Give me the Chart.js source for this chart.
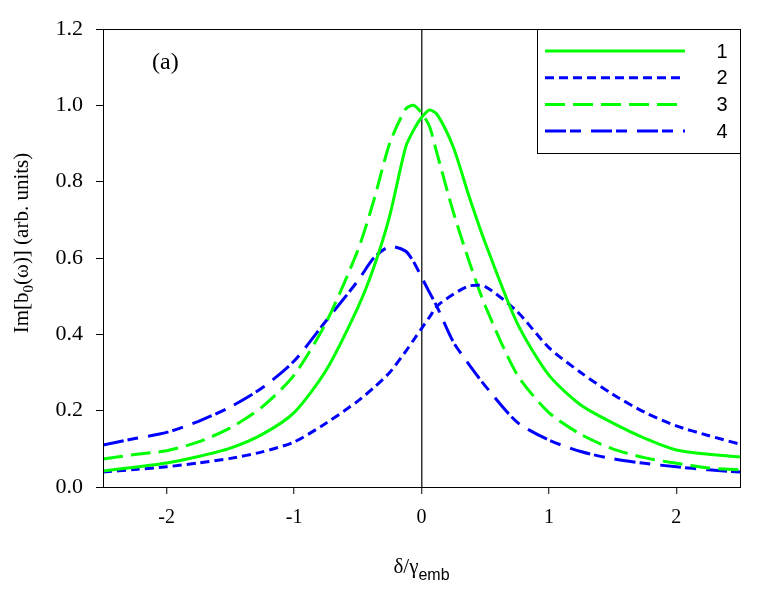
<!DOCTYPE html>
<html>
<head>
<meta charset="utf-8">
<script src="https://cdn.jsdelivr.net/npm/chart.js@4"></script>
<style>
    body { margin: 0; background: #fff; }
    #holder { width: 768px; height: 589px; }
</style>
</head>
<body>
<div id="holder"><canvas id="chart" width="768" height="589"></canvas></div>
<script>
// delta / gamma_emb values shared by all four curves
const deltaValues = [-2.5, -2.25, -2, -1.75, -1.5, -1.25, -1, -0.75, -0.5, -0.375, -0.25, -0.125, -0.0625,
    0, 0.0625, 0.125, 0.25, 0.375, 0.5, 0.75, 1, 1.25, 1.5, 1.75, 2, 2.25, 2.5];

const curve1 = [0.042, 0.052, 0.063, 0.080, 0.102, 0.138, 0.195, 0.305, 0.470, 0.575, 0.710, 0.890, 0.935,
    0.968, 0.988, 0.975, 0.890, 0.760, 0.640, 0.430, 0.293, 0.215, 0.168, 0.128, 0.097, 0.086, 0.079];
const curve2 = [0.039, 0.046, 0.053, 0.063, 0.075, 0.092, 0.118, 0.167, 0.225, 0.260, 0.300, 0.355, 0.385,
    0.415, 0.445, 0.475, 0.505, 0.527, 0.525, 0.460, 0.365, 0.300, 0.243, 0.196, 0.160, 0.135, 0.112];
const curve3 = [0.073, 0.085, 0.095, 0.118, 0.155, 0.210, 0.293, 0.430, 0.620, 0.750, 0.900, 0.990, 1.000,
    0.980, 0.945, 0.870, 0.720, 0.590, 0.475, 0.295, 0.195, 0.138, 0.100, 0.077, 0.062, 0.050, 0.045];
const curve4 = [0.110, 0.127, 0.143, 0.172, 0.210, 0.260, 0.330, 0.435, 0.540, 0.600, 0.630, 0.618, 0.590,
    0.550, 0.510, 0.470, 0.380, 0.320, 0.265, 0.170, 0.123, 0.093, 0.074, 0.062, 0.053, 0.045, 0.039];

const seriesLabels = ['1', '2', '3', '4'];
const xTickValues = [-2, -1, 0, 1, 2];
const yTickValues = [0, 0.2, 0.4, 0.6, 0.8, 1.0, 1.2];

const GREEN = '#00ff00';
const BLUE = '#0000ff';


function toPoints(values) {
    return deltaValues.map((x, i) => ({ x: x, y: values[i] }));
}


// Box round the plot area (Sigmaplot style)
const framePlugin = {
    id: 'frame',
    afterDatasetsDraw(chart) {
        const { ctx, chartArea } = chart;
        ctx.save();
        ctx.strokeStyle = '#000';
        ctx.lineWidth = 1;
        ctx.strokeRect(chartArea.left + 0.5, chartArea.top + 0.5,
            chartArea.right - chartArea.left, chartArea.bottom - chartArea.top);
        ctx.restore();
    }
};


// Legend sits in a box in the upper right corner of the plot
const boxLegendPlugin = {
    id: 'boxLegend',
    afterDraw(chart) {
        const { ctx, chartArea } = chart;
        const boxW = 203;
        const boxH = 124;
        const left = chartArea.right - boxW;
        const top = chartArea.top;
        ctx.save();
        ctx.fillStyle = '#fff';
        ctx.fillRect(left, top, boxW, boxH);
        ctx.strokeStyle = '#000';
        ctx.lineWidth = 1;
        ctx.strokeRect(left + 0.5, top + 0.5, boxW, boxH);

        chart.data.datasets.forEach((ds, i) => {
            const y = top + 22 + i * 26.7;
            ctx.beginPath();
            ctx.strokeStyle = ds.borderColor;
            ctx.lineWidth = ds.borderWidth;
            ctx.setLineDash(ds.borderDash || []);
            ctx.moveTo(left + 8, y);
            ctx.lineTo(left + 148, y);
            ctx.stroke();
            ctx.setLineDash([]);
            ctx.fillStyle = '#000';
            ctx.font = '20px "Liberation Sans", Arial, sans-serif';
            ctx.textAlign = 'center';
            ctx.textBaseline = 'middle';
            ctx.fillText(ds.label, left + 185, y + 1);
        });
        ctx.restore();
    }
};


// Draws text made of pieces, some of them subscripts
function drawPieces(ctx, pieces, x, y) {
    let width = 0;
    pieces.forEach(p => {
        ctx.font = p.font;
        width += ctx.measureText(p.text).width;
    });
    let cx = x - width / 2;
    pieces.forEach(p => {
        ctx.font = p.font;
        ctx.fillText(p.text, cx, y + (p.shift || 0));
        cx += ctx.measureText(p.text).width;
    });
}


const titlesPlugin = {
    id: 'titles',
    afterDraw(chart) {
        const { ctx, chartArea } = chart;
        const serif = '21px "Liberation Serif", "Times New Roman", serif';
        const serifSub = '15px "Liberation Serif", "Times New Roman", serif';
        const sansSub = '16px "Liberation Sans", Arial, sans-serif';
        ctx.save();
        ctx.fillStyle = '#000';
        ctx.textAlign = 'left';
        ctx.textBaseline = 'alphabetic';

        // y axis title, rotated
        ctx.save();
        ctx.translate(28, chartArea.top + 214);
        ctx.rotate(-Math.PI / 2);
        drawPieces(ctx, [
            { text: 'Im[b', font: serif },
            { text: '0', font: serifSub, shift: 5 },
            { text: '(\u03c9)] (arb. units)', font: serif }
        ], 0, 0);
        ctx.restore();

        // x axis title
        const midX = (chartArea.left + chartArea.right) / 2;
        drawPieces(ctx, [
            { text: '\u03b4/\u03b3', font: serif },
            { text: 'emb', font: sansSub, shift: 7 }
        ], midX, 573);

        // panel label
        ctx.font = '24px "Liberation Serif", "Times New Roman", serif';
        ctx.fillText('(a)', chartArea.left + 49, 69);
        ctx.restore();
    }
};


function buildChart() {
    const datasets = [
        { label: seriesLabels[0], data: toPoints(curve1), borderColor: GREEN, borderWidth: 3, borderDash: [] },
        { label: seriesLabels[1], data: toPoints(curve2), borderColor: BLUE, borderWidth: 3, borderDash: [9, 5] },
        { label: seriesLabels[2], data: toPoints(curve3), borderColor: GREEN, borderWidth: 3, borderDash: [20, 8] },
        { label: seriesLabels[3], data: toPoints(curve4), borderColor: BLUE, borderWidth: 3, borderDash: [21, 4, 11, 10] }
    ];
    datasets.forEach(ds => {
        ds.pointRadius = 0;
        ds.fill = false;
        ds.tension = 0.25;
    });

    const xTickFont = { family: '"Liberation Serif", "Times New Roman", serif', size: 20 };
    const yTickFont = { family: '"Liberation Serif", "Times New Roman", serif', size: 22 };

    const config = {
        type: 'line',
        data: { datasets: datasets },
        options: {
            responsive: false,
            animation: false,
            devicePixelRatio: 1,
            layout: { padding: { top: 29, right: 28, left: 0, bottom: 0 } },
            scales: {
                x: {
                    type: 'linear',
                    min: -2.5,
                    max: 2.5,
                    afterBuildTicks: scale => {
                        scale.ticks = xTickValues.map(v => ({ value: v }));
                    },
                    afterFit: scale => { scale.height = 102; },
                    // only the zero line is drawn across the plot
                    grid: {
                        drawOnChartArea: true,
                        color: context => (context.tick && context.tick.value === 0) ? '#333' : 'rgba(0,0,0,0)',
                        lineWidth: 1.5,
                        tickLength: 7,
                        tickColor: '#000',
                        tickWidth: 1
                    },
                    border: { display: true, color: '#000', width: 1 },
                    ticks: {
                        color: '#000',
                        font: xTickFont,
                        padding: 12,
                        maxRotation: 0,
                        callback: value => String(value)
                    }
                },
                y: {
                    type: 'linear',
                    min: 0,
                    max: 1.2,
                    afterBuildTicks: scale => {
                        scale.ticks = yTickValues.map(v => ({ value: v }));
                    },
                    afterFit: scale => { scale.width = 103; },
                    grid: {
                        drawOnChartArea: false,
                        tickLength: 7,
                        tickColor: '#000',
                        tickWidth: 1
                    },
                    border: { display: true, color: '#000', width: 1 },
                    ticks: {
                        color: '#000',
                        font: yTickFont,
                        padding: 13,
                        callback: value => value.toFixed(1)
                    }
                }
            },
            plugins: {
                legend: { display: false },
                tooltip: { enabled: false }
            }
        },
        plugins: [framePlugin, boxLegendPlugin, titlesPlugin]
    };

    new Chart(document.getElementById('chart').getContext('2d'), config);
}

buildChart();
</script>
</body>
</html>
